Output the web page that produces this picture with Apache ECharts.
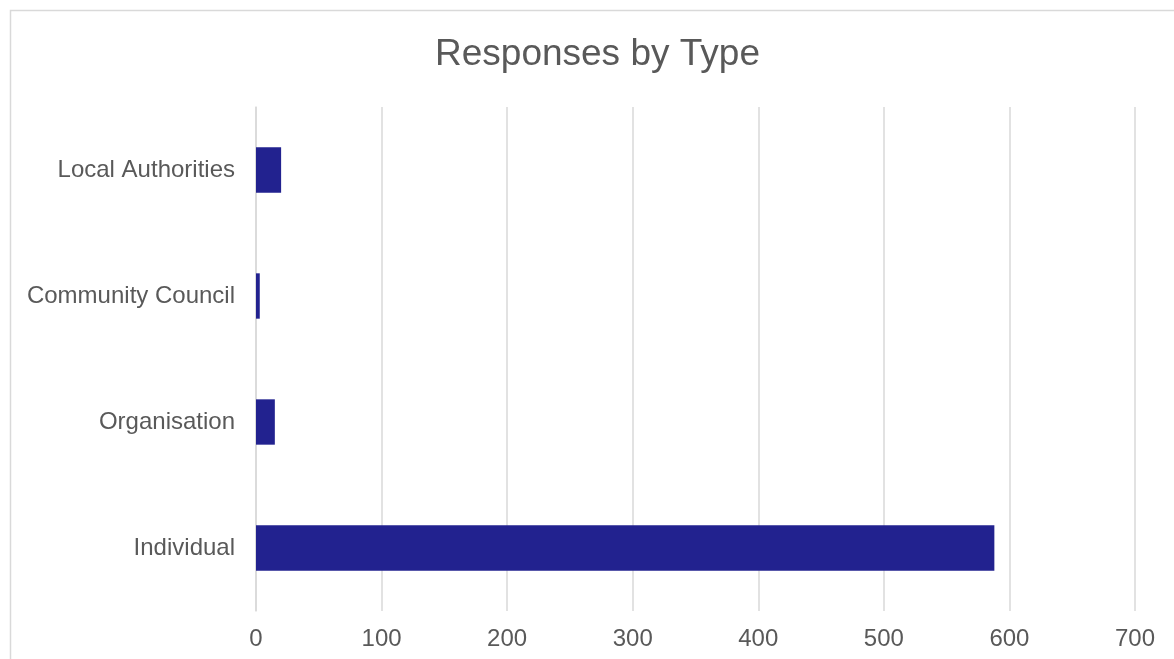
<!DOCTYPE html>
<html>
<head>
<meta charset="utf-8">
<script src="https://cdn.jsdelivr.net/npm/echarts@6/dist/echarts.min.js"></script>
<style>
html,body{margin:0;padding:0;background:#fff;}
#chart{width:1174px;height:659px;}
</style>
</head>
<body>
<div id="chart"></div>
<script>
const categories = ['Individual', 'Organisation', 'Community Council', 'Local Authorities'];
const responses = [588, 15, 3, 20];
const xTicks = [0, 100, 200, 300, 400, 500, 600, 700];

const chart = echarts.init(document.getElementById('chart'));
chart.setOption({
  backgroundColor: '#ffffff',
  animation: false,
  graphic: [{
    type: 'rect',
    shape: { x: 10.5, y: 10.5, width: 1200, height: 700 },
    style: { fill: 'none', stroke: '#d9d9d9', lineWidth: 1.5 },
    silent: true
  }],
  title: {
    text: 'Responses by Type',
    left: 430,
    top: 31,
    textStyle: { fontFamily: 'Liberation Sans', fontSize: 37, fontWeight: 'normal', color: '#595959' }
  },
  grid: { left: 256, right: 39, top: 107, bottom: 48, containLabel: false },
  xAxis: {
    type: 'value',
    min: xTicks[0],
    max: xTicks[xTicks.length - 1],
    interval: 100,
    axisLine: { show: false },
    axisTick: { show: false },
    splitLine: { show: true, lineStyle: { color: '#d9d9d9', width: 1.5 } },
    axisLabel: { margin: 16, fontFamily: 'Liberation Sans', fontSize: 24, color: '#595959' }
  },
  yAxis: {
    type: 'category',
    data: categories,
    axisLine: { show: true, lineStyle: { color: '#d9d9d9', width: 1.5 } },
    axisTick: { show: false },
    axisLabel: { margin: 21, fontFamily: 'Liberation Sans', fontSize: 24, color: '#595959' }
  },
  series: [{
    type: 'bar',
    data: responses,
    barWidth: '36%',
    itemStyle: { color: '#22228f' }
  }]
});
</script>
</body>
</html>
